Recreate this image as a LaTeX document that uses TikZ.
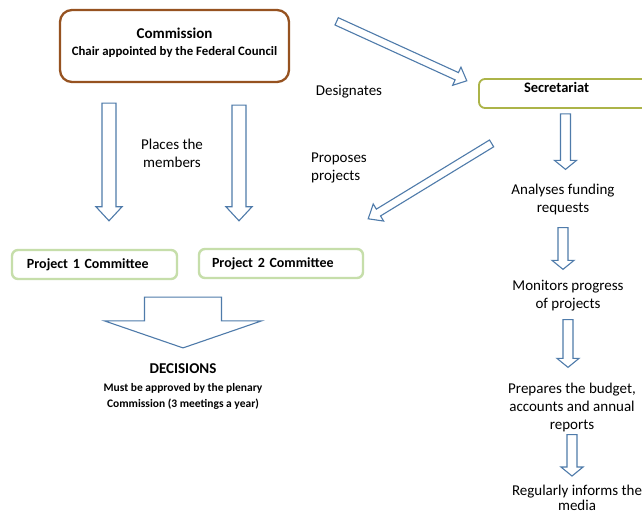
\documentclass[tikz,border=0pt]{standalone}
\usepackage{fontspec}
\setmainfont{Carlito}
\usepackage{tikz}
\usetikzlibrary{calc}
\usetikzlibrary{positioning}
\definecolor{arrowblue}{RGB}{79,123,170}
\definecolor{combrown}{RGB}{150,82,32}
\definecolor{secolive}{RGB}{172,180,72}
\definecolor{projgreen}{RGB}{198,222,170}
\tikzset{shaft half/.store in=\shafthalf, head half/.store in=\headhalf,
	head len/.store in=\headlen, gap at start/.store in=\gapstart,
	gap at end/.store in=\gapend,
	shaft half=5pt, head half=11pt, head len=9pt, gap at start=0pt, gap at end=0pt}
\tikzset{block arrow/.style={draw=arrowblue, line width=1.1pt, fill=white, to path={
			let \p1=($(\tikztostart)!\gapstart!(\tikztotarget)$),
			\p2=($(\tikztotarget)!\gapend!(\tikztostart)$),
			\n1={atan2(\y2-\y1,\x2-\x1)}, \n2={veclen(\x2-\x1,\y2-\y1)},
			\n3={atan2(\headhalf,\headlen)}, \n4={veclen(\headhalf,\headlen)} in
			(\p1) ++(\n1+90:\shafthalf) -- ++(\n1-90:2*\shafthalf)
			-- ++(\n1:\n2-\headlen) -- ++(\n1-90:\headhalf-\shafthalf)
			-- (\p2) -- ++(\n1+180-\n3:\n4)
			-- ++(\n1-90:\headhalf-\shafthalf) -- cycle}}}
\tikzstyle{flowtext}=[font=\fontsize{15}{18}\selectfont, align=center, inner sep=0pt]
\tikzstyle{combox}=[draw=combrown, line width=2.3pt, rounded corners=12pt,
minimum width=229pt, minimum height=72pt, align=center, text depth=9pt,
font=\bfseries\fontsize{12.8}{17}\selectfont]
\tikzstyle{secbox}=[draw=secolive, line width=1.8pt, rounded corners=6pt,
minimum width=173pt, minimum height=29pt, inner xsep=45pt, text width=83pt, align=left,
text height=10pt, text depth=12pt, font=\bfseries\fontsize{14.5}{17}\selectfont]
\tikzstyle{projbox}=[draw=projgreen, line width=2.4pt, rounded corners=6pt,
minimum height=29pt, inner xsep=15pt, text width=135pt, align=left,
font=\bfseries\fontsize{14}{17}\selectfont]

\begin{document}
\begin{tikzpicture}[x=1pt, y=1pt]
	\fill[white] (0,0) rectangle (642,514);
	\useasboundingbox (0,0) rectangle (642,514);
	\node[combox] (commission) at (174.5,468)
	{{\fontsize{15}{18}\selectfont Commission}\\Chair appointed by the Federal Council};
	\node[secbox] (secretariat) at (565.5,420.5) {Secretariat};
	\node[projbox] (p1) at (94.5,249.5) {Project 1 Committee};
	\node[projbox, inner xsep=13pt, text width=138pt] (p2) at (281,250.5) {Project 2 Committee};
	\node[flowtext] (places) at (172,361) {Places the\\members};
	\node[flowtext] (designates) at (349,422) {Designates};
	\node[flowtext, anchor=west, align=left] (proposes) at (311,346) {Proposes\\projects};
	\node[flowtext, font=\bfseries\fontsize{11.5}{16}\selectfont] (decisions) at (183,127)
	{{\fontsize{15}{18}\selectfont DECISIONS}\\[2pt]Must be approved by the plenary\\Commission (3 meetings a year)};
	\node[flowtext] (analyses) at (563,314) {Analyses funding\\requests};
	\node[flowtext] (monitors) at (568,218) {Monitors progress\\of projects};
	\node[flowtext] (prepares) at (572,106) {Prepares the budget,\\accounts and annual\\reports};
	\node[flowtext] (informs) at (577,16) {Regularly informs the\\[-3pt]media};

	\draw[block arrow, shaft half=7pt, head half=13pt, head len=14pt, gap at start=20pt, gap at end=28pt]
	([xshift=-65.5pt]commission.south) to ([xshift=14.5pt]p1.north);
	\draw[block arrow, shaft half=7pt, head half=13pt, head len=14pt, gap at start=22pt, gap at end=27pt]
	([xshift=64.5pt]commission.south) to ([xshift=-42pt]p2.north);
	\draw[block arrow, shaft half=4pt, head half=10pt, head len=11pt]
	([shift={(46.5pt,-12.5pt)}]commission.north east) to ([shift={(-11.3pt,-2.7pt)}]secretariat.north west);
	\draw[block arrow, shaft half=4pt, head half=10pt, head len=12pt]
	([shift={(13.5pt,-34.5pt)}]secretariat.south west) to ([shift={(4pt,29pt)}]p2.north east);
	\draw[block arrow, shaft half=38.5pt, head half=78.5pt, head len=27pt, gap at start=17pt, gap at end=16pt]
	(decisions.north |- p1.south) to (decisions.north);
	\draw[block arrow, gap at start=5pt, gap at end=15pt]
	(secretariat.south) to (secretariat.south |- analyses.north);
	\draw[block arrow, gap at start=12pt, gap at end=11pt]
	(analyses.south) to (analyses.south |- monitors.north);
	\draw[block arrow, gap at start=8pt, gap at end=16pt]
	(monitors.south) to (monitors.south |- prepares.north);
	\draw[block arrow, gap at start=2pt, gap at end=9pt]
	(prepares.south) to (prepares.south |- informs.north);
\end{tikzpicture}
\end{document}
